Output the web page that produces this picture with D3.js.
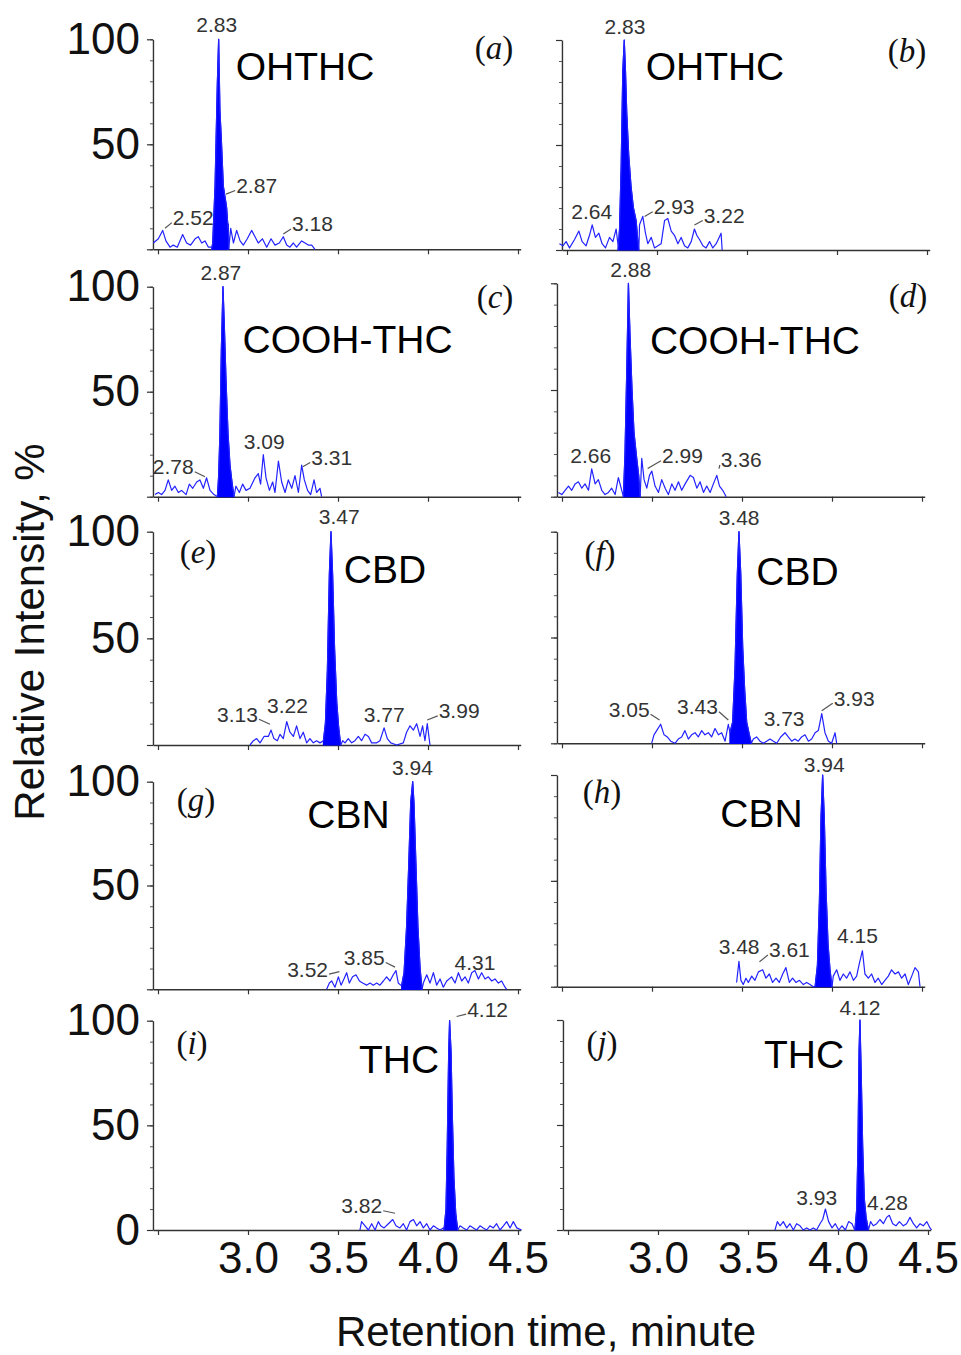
<!DOCTYPE html>
<html><head><meta charset="utf-8">
<script src="https://cdn.jsdelivr.net/npm/d3@7"></script>
<style>body{margin:0;background:#fff}svg{display:block}</style>
</head><body>
<script>
// ---------- DATA ----------
const xTickValues = [2.5, 3.0, 3.5, 4.0, 4.5];
const xTickLabels = ["", "3.0", "3.5", "4.0", "4.5"];
const yMinorTicks = [0,10,20,30,40,50,60,70,80,90,100];
const yMajorTicks = [0, 50, 100];
const panelLetters = ["a","b","c","d","e","f","g","h","i","j"];
const compounds = ["OHTHC","OHTHC","COOH-THC","COOH-THC","CBD","CBD","CBN","CBN","THC","THC"];

// noise traces [time (min), relative intensity %]
const noiseA = [[2.474,3],[2.502,5],[2.526,9],[2.544,4],[2.567,1],[2.585,2],[2.607,1],[2.637,7],[2.659,3],[2.681,2],[2.706,5],[2.724,6],[2.743,3],[2.761,4],[2.780,1],[2.798,1],
 [2.891,12],[2.904,10],[2.919,3],[2.937,9],[2.956,4],[2.974,2],[2.996,5],[3.020,9],[3.039,6],[3.057,3],[3.080,5],[3.104,1],[3.128,5],[3.150,2],[3.174,3],[3.196,6],[3.215,2],[3.233,1],[3.252,3],[3.270,1],[3.298,4],[3.317,3],[3.335,2],[3.354,2],[3.372,0]];
const peakA = [[2.798,0],[2.804,3],[2.817,30],[2.830,80],[2.837,100],[2.844,66],[2.852,52],[2.863,30],[2.874,24],[2.881,20],[2.889,10],[2.893,0]];

const noiseB = [[2.458,3],[2.477,2],[2.495,4],[2.514,1],[2.542,5],[2.566,9],[2.584,4],[2.606,2],[2.625,7],[2.640,12],[2.658,6],[2.677,8],[2.695,3],[2.714,1],[2.736,6],[2.755,4],[2.773,10],[2.784,2],
 [2.903,12],[2.921,16],[2.936,8],[2.949,3],[2.968,6],[2.986,1],[3.005,2],[3.023,3],[3.042,14],[3.060,15],[3.079,9],[3.097,7],[3.116,3],[3.134,6],[3.153,2],[3.171,1],[3.190,4],[3.208,10],[3.221,7],[3.236,5],[3.255,2],[3.273,1],[3.292,4],[3.310,1],[3.329,3],[3.356,8],[3.362,0]];
const peakB = [[2.784,0],[2.792,10],[2.801,40],[2.810,85],[2.818,100],[2.825,85],[2.832,65],[2.843,45],[2.856,30],[2.869,20],[2.884,14],[2.893,5],[2.899,0]];

const noiseC = [[2.483,1],[2.502,2],[2.520,1],[2.539,3],[2.557,8],[2.576,3],[2.594,5],[2.613,2],[2.631,3],[2.656,1],[2.674,6],[2.693,4],[2.715,7],[2.733,8],[2.752,4],[2.770,9],[2.789,3],[2.811,1],[2.830,0],
 [2.933,5],[2.952,2],[2.970,6],[2.989,3],[3.011,4],[3.039,9],[3.057,11],[3.070,6],[3.085,20],[3.100,9],[3.119,3],[3.137,7],[3.150,2],[3.169,17],[3.187,7],[3.206,2],[3.224,8],[3.243,4],[3.261,10],[3.280,2],[3.298,15],[3.313,8],[3.331,3],[3.348,1],[3.367,8],[3.381,2],[3.400,4],[3.409,0]];
const peakC = [[2.830,0],[2.837,10],[2.844,30],[2.852,70],[2.861,100],[2.869,80],[2.878,55],[2.889,30],[2.900,15],[2.911,7],[2.922,0]];

const noiseD = [[2.480,2],[2.499,1],[2.517,3],[2.536,5],[2.554,3],[2.573,6],[2.591,7],[2.610,4],[2.628,6],[2.647,3],[2.665,13],[2.684,6],[2.702,8],[2.721,3],[2.739,1],[2.758,2],[2.776,4],[2.795,1],[2.813,9],[2.832,3],
 [2.943,18],[2.956,8],[2.971,4],[2.986,10],[2.999,12],[3.017,5],[3.036,2],[3.054,8],[3.073,4],[3.091,1],[3.110,6],[3.128,3],[3.147,7],[3.165,3],[3.184,6],[3.212,10],[3.230,9],[3.249,4],[3.267,7],[3.286,2],[3.304,5],[3.323,2],[3.341,6],[3.360,10],[3.375,5],[3.393,3],[3.412,0]];
const peakD = [[2.841,0],[2.850,20],[2.860,60],[2.869,100],[2.878,75],[2.889,50],[2.900,30],[2.915,18],[2.926,10],[2.934,0]];

const noiseE = [[3.011,0],[3.030,2],[3.048,3],[3.067,1],[3.089,4],[3.113,4],[3.128,7],[3.144,3],[3.163,2],[3.178,5],[3.196,3],[3.215,11],[3.233,6],[3.252,4],[3.270,9],[3.289,3],[3.307,6],[3.326,1],[3.344,3],[3.363,1],[3.381,2],[3.400,1],[3.419,2],
 [3.526,2],[3.539,1],[3.557,3],[3.576,1],[3.594,2],[3.613,4],[3.631,2],[3.650,5],[3.669,4],[3.687,1],[3.715,1],[3.733,2],[3.756,8],[3.774,3],[3.793,1],[3.826,0],[3.863,1],[3.881,6],[3.900,9],[3.919,7],[3.937,10],[3.956,4],[3.970,9],[3.983,2],[3.996,10],[4.011,0]];
const peakE = [[3.419,2],[3.430,10],[3.441,35],[3.452,80],[3.461,100],[3.470,80],[3.481,45],[3.493,20],[3.504,8],[3.515,0]];

const noiseF = [[2.998,0],[3.011,4],[3.026,6],[3.048,9],[3.067,4],[3.085,3],[3.104,1],[3.128,0],[3.146,2],[3.165,3],[3.183,6],[3.202,2],[3.220,4],[3.239,5],[3.257,3],[3.276,6],[3.294,4],[3.313,5],[3.331,3],[3.350,7],[3.369,4],[3.387,5],[3.406,1],[3.424,9],
 [3.563,2],[3.581,3],[3.600,1],[3.619,0],[3.637,1],[3.656,2],[3.674,1],[3.693,0],[3.715,3],[3.739,5],[3.757,3],[3.776,1],[3.794,2],[3.813,1],[3.831,3],[3.850,4],[3.869,1],[3.887,2],[3.906,5],[3.924,6],[3.943,14],[3.961,5],[3.980,1],[3.998,0],[4.017,5],[4.026,0]];
const peakF = [[3.433,5],[3.448,10],[3.461,35],[3.474,80],[3.483,100],[3.493,80],[3.504,45],[3.515,25],[3.526,10],[3.541,4],[3.552,0]];

const noiseG = [[3.437,0],[3.452,3],[3.465,4],[3.483,1],[3.502,6],[3.517,2],[3.533,5],[3.548,8],[3.563,3],[3.581,6],[3.600,7],[3.619,4],[3.637,3],[3.659,2],[3.678,3],[3.696,2],[3.715,3],[3.733,2],[3.752,4],[3.770,6],[3.789,4],[3.807,7],[3.822,9],[3.835,3],[3.848,2],
 [3.974,3],[3.993,7],[4.011,3],[4.030,8],[4.048,2],[4.067,5],[4.085,1],[4.104,4],[4.131,6],[4.150,3],[4.169,8],[4.187,4],[4.206,6],[4.224,3],[4.243,8],[4.261,9],[4.280,5],[4.298,8],[4.317,5],[4.335,6],[4.354,4],[4.372,5],[4.391,3],[4.409,4],[4.428,1],[4.437,0]];
const peakG = [[3.854,2],[3.867,8],[3.881,30],[3.893,60],[3.904,90],[3.915,100],[3.922,90],[3.933,60],[3.944,30],[3.956,10],[3.967,0]];

const noiseH = [[3.470,2],[3.483,12],[3.494,3],[3.507,1],[3.522,4],[3.535,2],[3.554,5],[3.572,3],[3.591,7],[3.615,8],[3.633,4],[3.652,6],[3.670,2],[3.689,4],[3.707,2],[3.726,6],[3.744,9],[3.763,2],[3.781,4],[3.800,2],[3.819,3],[3.841,1],[3.859,2],[3.878,1],[3.896,0],
 [4.007,5],[4.026,8],[4.044,3],[4.063,6],[4.081,4],[4.100,7],[4.119,3],[4.137,5],[4.152,11],[4.169,17],[4.183,6],[4.202,4],[4.220,6],[4.239,2],[4.257,4],[4.276,1],[4.294,3],[4.313,5],[4.331,8],[4.350,6],[4.369,7],[4.387,4],[4.406,6],[4.424,1],[4.443,5],[4.461,9],[4.480,7],[4.489,0]];
const peakH = [[3.906,0],[3.919,10],[3.930,40],[3.939,80],[3.948,100],[3.957,80],[3.967,45],[3.978,20],[3.989,8],[4.000,0]];

const noiseI = [[3.622,0],[3.631,4],[3.650,2],[3.669,0],[3.687,3],[3.706,0],[3.724,4],[3.737,2],[3.756,1],[3.780,3],[3.804,5],[3.822,2],[3.844,1],[3.863,3],[3.881,0],[3.900,4],[3.919,5],[3.937,2],[3.956,4],[3.974,1],[3.993,3],[4.011,0],[4.030,2],[4.048,1],[4.067,0],[4.085,1],
 [4.178,2],[4.196,1],[4.215,0],[4.233,2],[4.252,1],[4.270,0],[4.289,2],[4.307,1],[4.326,0],[4.344,2],[4.363,1],[4.381,3],[4.400,0],[4.419,2],[4.437,4],[4.456,1],[4.474,4],[4.493,1],[4.520,0]];
const peakI = [[4.089,0],[4.100,10],[4.107,40],[4.115,85],[4.120,100],[4.128,85],[4.135,55],[4.144,25],[4.154,8],[4.165,0]];

const noiseJ = [[3.650,0],[3.663,4],[3.678,2],[3.696,4],[3.715,1],[3.733,3],[3.752,0],[3.770,3],[3.789,2],[3.807,0],[3.826,1],[3.844,0],[3.863,1],[3.881,0],[3.900,3],[3.915,5],[3.930,10],[3.948,4],[3.967,1],[3.985,3],[4.004,0],[4.022,2],[4.041,0],[4.059,4],[4.078,3],[4.093,0],
 [4.181,4],[4.196,2],[4.215,3],[4.233,5],[4.252,3],[4.270,6],[4.285,7],[4.304,3],[4.322,2],[4.341,4],[4.363,2],[4.381,3],[4.400,6],[4.419,3],[4.437,1],[4.456,3],[4.474,2],[4.493,4],[4.511,1],[4.520,0]];
const peakJ = [[4.094,0],[4.104,10],[4.111,40],[4.117,85],[4.122,100],[4.130,70],[4.137,40],[4.146,15],[4.156,6],[4.169,0]];

// peak labels: panel, text, label centre (t, I), leader target (t, I) or null
const peakLabels = [
 ["a","2.83",2.826,107,null,null],["a","2.87",3.048,30.4,2.878,26.3],["a","2.52",2.696,15.1,2.539,10],["a","3.18",3.358,12,3.196,7.3],
 ["b","2.83",2.822,106.3,null,null],["b","2.64",2.637,18.2,null,null],["b","2.93",3.095,20.6,2.931,15.9],["b","3.22",3.373,16.4,3.208,11.9],
 ["c","2.87",2.849,106.8,null,null],["c","2.78",2.585,14.3,2.761,9.5],["c","3.09",3.090,26.2,null,null],["c","3.31",3.465,18.7,3.304,14.3],
 ["d","2.88",2.882,106.2,null,null],["d","2.66",2.660,19.2,null,null],["d","2.99",3.169,19.2,2.976,13.2],["d","3.36",3.496,17.2,3.372,13.2],
 ["e","3.47",3.507,107,null,null],["e","3.13",2.942,14.4,3.122,9.7],["e","3.22",3.219,18.4,null,null],["e","3.77",3.757,14.4,null,null],["e","3.99",4.173,16,3.996,11.7],
 ["f","3.48",3.484,106.7,null,null],["f","3.05",2.873,16.1,3.042,11],["f","3.43",3.253,17.3,3.424,11],["f","3.73",3.734,11.8,null,null],["f","3.93",4.123,21.3,3.943,15.4],
 ["g","3.94",3.914,106.8,null,null],["g","3.52",3.331,9.7,3.508,8.5],["g","3.85",3.646,15.3,3.817,10.7],["g","4.31",4.261,12.9,null,null],
 ["h","3.94",3.957,104.7,null,null],["h","3.48",3.484,18.9,null,null],["h","3.61",3.763,17.3,3.597,11.8],["h","4.15",4.142,24,null,null],
 ["i","4.12",4.331,105.5,4.159,102],["i","3.82",3.632,11.6,3.817,8],
 ["j","4.12",4.122,105.7,null,null],["j","3.93",3.882,15.5,null,null],["j","4.28",4.275,13.1,null,null]
];
// compound name position (t, I of text baseline centre)
const compoundPos = [[3.317,80.6],[3.322,81],[3.553,68.6],[3.572,67],[3.761,75.9],[3.808,74.8],[3.558,77.7],[3.608,75.4],[3.839,75.1],[3.811,77.1]];
// panel letter position (t, I of centre)
const letterPos = [[4.367,95.9],[4.389,95.2],[4.372,95.5],[4.422,94.4],[2.722,90.9],[2.711,90],[2.711,91.3],[2.722,92.3],[2.689,89.8],[2.689,89.5]];

const noises = [noiseA,noiseB,noiseC,noiseD,noiseE,noiseF,noiseG,noiseH,noiseI,noiseJ];
const peaks = [peakA,peakB,peakC,peakD,peakE,peakF,peakG,peakH,peakI,peakJ];

// ---------- LAYOUT ----------
const frames = [
 {x0:158, top:39.3,  base:249.3},{x0:567, top:40,    base:250},
 {x0:158, top:286.7, base:496.7},{x0:562, top:283.3, base:496.7},
 {x0:158, top:531.7, base:745},  {x0:562, top:531.7, base:743.3},
 {x0:158, top:781.7, base:989.3},{x0:562, top:775,   base:986.7},
 {x0:158, top:1020.7,base:1230}, {x0:568, top:1020,  base:1230}
];
const axisStart = 2.472, axisEnd = 4.515;
const SANS = "'Liberation Sans', Arial, Helvetica, sans-serif";
const SERIF = "'Liberation Serif', 'Times New Roman', serif";
const blue = "#0000ff", traceBlue = "#2222ff", axisCol = "#333";

const svg = d3.select("body").append("svg").attr("width",961).attr("height",1355)
  .style("font-family", SANS);

panelLetters.forEach((id, k) => {
  const f = frames[k];
  const isLeft = k % 2 === 0, isBottom = k >= 8;
  const x = d3.scaleLinear().domain([2.5, 4.5]).range([f.x0, f.x0 + 360]);
  const xa = d3.scaleLinear().domain([axisStart, axisEnd]).range([x(axisStart), x(axisEnd)]);
  const y = d3.scaleLinear().domain([0, 100]).range([f.base, f.top]);
  const g = svg.append("g");

  // axes
  const minor = g.append("g").attr("transform", `translate(${x(axisStart)},0)`)
    .call(d3.axisLeft(y).tickValues(yMinorTicks).tickSize(3).tickFormat(""));
  minor.select(".domain").remove();
  minor.selectAll("line").attr("stroke", "#555").attr("stroke-width", 1);

  const ylab = isLeft ? (isBottom ? yMajorTicks : yMajorTicks.filter(v => v > 0)) : [];
  const major = g.append("g").attr("transform", `translate(${x(axisStart)},0)`)
    .call(d3.axisLeft(y).tickValues(yMajorTicks).tickSizeInner(6).tickSizeOuter(0).tickPadding(7)
      .tickFormat(v => ylab.includes(v) ? String(v) : ""));
  major.select(".domain").attr("stroke", axisCol).attr("stroke-width", 1.4);
  major.selectAll("line").attr("stroke", axisCol).attr("stroke-width", 1.2);
  major.selectAll("text").attr("font-family", SANS).attr("font-size", 44).attr("fill", "#111");

  const xax = g.append("g").attr("transform", `translate(0,${y(0)})`)
    .call(d3.axisBottom(xa).tickValues(xTickValues).tickSizeInner(5).tickSizeOuter(0).tickPadding(7)
      .tickFormat((v, i) => isBottom ? xTickLabels[i] : ""));
  xax.select(".domain").attr("stroke", axisCol).attr("stroke-width", 1.4);
  xax.selectAll("line").attr("stroke", axisCol).attr("stroke-width", 1.2);
  xax.selectAll("text").attr("font-family", SANS).attr("font-size", 44).attr("fill", "#111");

  // trace + filled peak
  const trace = noises[k].concat(peaks[k]).sort((a, b) => a[0] - b[0]);
  g.append("path").datum(peaks[k])
    .attr("d", d3.area().x(d => x(d[0])).y0(y(0)).y1(d => y(d[1])))
    .attr("fill", blue).attr("stroke", blue).attr("stroke-width", 1.2).attr("stroke-linejoin", "round");
  g.append("path").datum(trace)
    .attr("d", d3.line().x(d => x(d[0])).y(d => y(d[1])))
    .attr("fill", "none").attr("stroke", traceBlue).attr("stroke-width", 1.2).attr("stroke-linejoin", "round");

  // compound name
  g.append("text").attr("x", x(compoundPos[k][0])).attr("y", y(compoundPos[k][1]))
    .attr("text-anchor", "middle").attr("font-size", 39).attr("fill", "#000").text(compounds[k]);

  // panel letter
  const lt = g.append("text").attr("x", x(letterPos[k][0])).attr("y", y(letterPos[k][1])).attr("dy", "0.35em")
    .attr("text-anchor", "middle").attr("font-family", SERIF).attr("font-size", 33).attr("fill", "#111");
  lt.append("tspan").text("(");
  lt.append("tspan").attr("font-style", "italic").text(id);
  lt.append("tspan").text(")");

  // peak labels
  peakLabels.filter(d => d[0] === id).forEach(d => {
    const tx = x(d[2]), ty = y(d[3]);
    const t = g.append("text").attr("x", tx).attr("y", ty).attr("dy", "0.35em")
      .attr("text-anchor", "middle").attr("font-size", 21).attr("fill", "#333").text(d[1]);
    if (d[4] !== null) {
      const bb = t.node().getBBox();
      const px = x(d[4]), py = y(d[5]);
      const sx = px < tx ? bb.x - 1 : bb.x + bb.width + 1;
      const sy = ty + 5;
      g.append("line").attr("x1", sx).attr("y1", sy).attr("x2", px).attr("y2", py)
        .attr("stroke", "#555").attr("stroke-width", 1.2);
    }
  });
});

// axis titles
svg.append("text").attr("transform", "translate(44,632) rotate(-90)")
  .attr("text-anchor", "middle").attr("font-size", 42).attr("fill", "#111")
  .text("Relative Intensity, %");
svg.append("text").attr("x", 546).attr("y", 1346)
  .attr("text-anchor", "middle").attr("font-size", 42).attr("fill", "#111")
  .text("Retention time, minute");
</script>
</body></html>
